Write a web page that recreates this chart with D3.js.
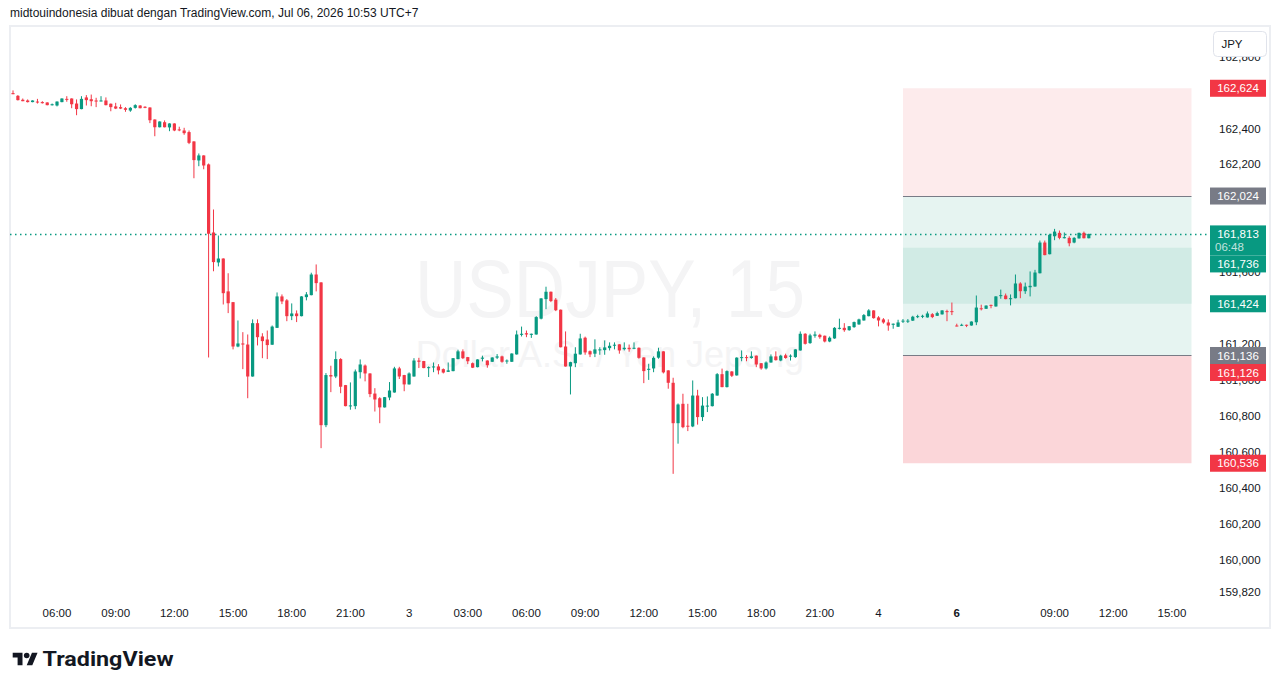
<!DOCTYPE html>
<html>
<head>
<meta charset="utf-8">
<script src="https://cdn.jsdelivr.net/npm/d3@7"></script>
<style>
  html, body { margin: 0; padding: 0; background: #fff; }
  svg { display: block; font-family: "Liberation Sans", Arial, sans-serif; }
</style>
</head>
<body>
<svg id="chart" width="1281" height="688"></svg>
<script>
// USDJPY 15m bars, Jul 2 03:45 .. Jul 6 10:45 (UTC+7)
const opens = [162.597,162.582,162.560,162.556,162.547,162.550,162.547,162.545,162.532,162.528,162.547,162.565,162.567,162.539,162.508,162.573,162.563,162.556,162.552,162.556,162.538,162.523,162.519,162.513,162.500,162.515,162.528,162.521,162.517,162.450,162.407,162.435,162.406,162.428,162.395,162.389,162.380,162.328,162.222,162.250,162.200,161.821,161.654,161.676,161.493,161.433,161.186,161.203,161.197,161.019,161.316,161.242,161.225,161.196,161.290,161.465,161.443,161.355,161.370,161.355,161.461,161.472,161.587,161.543,160.748,161.027,161.019,161.116,160.971,160.854,160.854,161.043,161.080,161.036,160.924,160.898,160.847,160.902,160.930,161.064,161.027,160.975,161.019,161.108,161.105,161.068,161.071,161.075,161.060,161.045,161.049,161.116,161.159,161.127,161.093,161.071,161.118,161.108,161.101,161.124,161.131,161.103,161.101,161.142,161.251,161.260,161.251,161.253,161.341,161.450,161.491,161.447,161.391,161.186,161.075,161.093,161.142,161.235,161.160,161.146,161.166,161.166,161.177,161.192,161.198,161.171,161.179,161.174,161.179,161.125,161.056,161.064,161.124,161.159,161.053,160.984,160.759,160.867,160.745,160.741,160.913,160.793,160.854,160.854,160.913,161.032,160.960,161.047,161.025,161.122,161.127,161.122,161.135,161.093,161.064,161.097,161.131,161.108,161.137,161.131,161.127,161.164,161.257,161.205,161.246,161.251,161.246,161.214,161.231,161.287,161.290,161.277,161.294,161.309,161.331,161.355,161.387,161.348,161.337,161.320,161.307,161.296,161.326,161.326,161.330,161.350,161.352,161.348,161.366,161.357,161.365,161.383,161.383,161.303,161.303,161.307,161.303,161.321,161.399,161.396,161.418,161.409,161.468,161.470,161.452,161.455,161.537,161.494,161.516,161.520,161.594,161.765,161.700,161.800,161.819,161.789,161.791,161.765,161.788,161.819,161.789];
const highs = [162.612,162.586,162.567,162.562,162.557,162.565,162.552,162.546,162.539,162.551,162.568,162.580,162.568,162.562,162.580,162.586,162.589,162.571,162.580,162.573,162.539,162.543,162.534,162.519,162.519,162.535,162.530,162.524,162.518,162.451,162.440,162.445,162.429,162.429,162.410,162.404,162.389,162.329,162.261,162.251,162.205,161.949,161.804,161.677,161.594,161.434,161.331,161.266,161.253,161.337,161.337,161.260,161.275,161.303,161.487,161.476,161.450,161.426,161.387,161.466,161.489,161.597,161.643,161.544,161.038,161.079,161.159,161.121,160.972,160.986,161.058,161.114,161.086,161.037,160.954,160.904,160.905,160.988,161.073,161.073,161.028,161.042,161.121,161.123,161.106,161.075,161.097,161.088,161.064,161.097,161.122,161.168,161.170,161.128,161.097,161.115,161.135,161.109,161.126,161.144,161.135,161.114,161.148,161.275,161.297,161.275,161.258,161.355,161.455,161.519,161.492,161.456,161.392,161.270,161.101,161.182,161.257,161.241,161.164,161.226,161.182,161.220,161.209,161.209,161.199,161.209,161.197,161.209,161.181,161.126,161.090,161.131,161.179,161.160,161.054,161.012,160.869,160.923,160.867,160.997,160.945,160.904,160.908,160.927,161.038,161.063,161.053,161.049,161.126,161.164,161.138,161.159,161.136,161.094,161.103,161.142,161.159,161.140,161.146,161.142,161.171,161.270,161.260,161.257,161.270,161.257,161.247,161.242,161.294,161.341,161.316,161.300,161.325,161.341,161.367,161.394,161.388,161.355,161.344,161.337,161.314,161.335,161.339,161.339,161.357,161.363,161.363,161.381,161.372,161.380,161.388,161.391,161.431,161.313,161.313,161.308,161.326,161.470,161.419,161.415,161.419,161.466,161.503,161.481,161.476,161.587,161.544,161.542,161.604,161.613,161.776,161.776,161.814,161.841,161.832,161.821,161.800,161.795,161.820,161.826,161.814];
const lows = [162.591,162.556,162.552,162.545,162.546,162.539,162.539,162.529,162.528,162.523,162.546,162.549,162.513,162.474,162.507,162.528,162.524,162.519,162.551,162.529,162.496,162.508,162.508,162.493,162.493,162.511,162.512,162.513,162.430,162.357,162.406,162.406,162.385,162.385,162.385,162.365,162.313,162.123,162.190,162.173,161.125,161.605,161.632,161.420,161.372,161.170,161.182,161.060,160.898,161.018,161.192,161.121,161.116,161.195,161.289,161.422,161.327,161.333,161.322,161.354,161.443,161.471,161.493,160.620,160.737,160.932,161.010,160.926,160.853,160.834,160.837,161.008,160.992,160.904,160.824,160.759,160.846,160.887,160.929,161.005,160.937,160.974,161.018,161.066,161.065,161.016,161.043,161.031,161.036,161.044,161.048,161.115,161.116,161.088,161.066,161.070,161.103,161.068,161.100,161.116,161.096,161.090,161.100,161.141,161.242,161.238,161.234,161.252,161.337,161.394,161.433,161.383,161.181,161.074,160.919,161.071,161.141,161.140,161.127,161.127,161.140,161.140,161.164,161.170,161.146,161.164,161.157,161.171,161.118,160.982,161.000,161.043,161.118,161.036,160.951,160.477,160.645,160.731,160.715,160.737,160.751,160.771,160.821,160.852,160.912,160.959,160.958,161.016,161.024,161.104,161.104,161.118,161.071,161.057,161.058,161.096,161.108,161.104,161.118,161.108,161.123,161.163,161.197,161.201,161.235,161.229,161.209,161.210,161.229,161.281,161.268,161.274,161.290,161.307,161.330,161.354,161.341,161.298,161.313,161.274,161.285,161.295,161.317,161.317,161.328,161.344,161.344,161.347,161.344,161.356,161.364,161.327,161.361,161.298,161.300,161.294,161.302,161.305,161.387,161.395,161.399,161.408,161.452,161.449,161.415,161.454,161.455,161.479,161.465,161.519,161.593,161.694,161.699,161.778,161.783,161.788,161.744,161.761,161.787,161.788,161.788];
const closes = [162.591,162.558,162.552,162.547,162.556,162.545,162.541,162.530,162.535,162.550,162.567,162.560,162.535,162.508,162.565,162.558,162.552,162.550,162.556,162.530,162.519,162.511,162.511,162.504,162.515,162.530,162.513,162.515,162.446,162.407,162.439,162.407,162.428,162.389,162.391,162.374,162.320,162.224,162.250,162.194,161.814,161.656,161.676,161.483,161.427,161.186,161.203,161.197,161.019,161.316,161.238,161.216,161.194,161.297,161.465,161.437,161.355,161.370,161.355,161.465,161.476,161.587,161.539,160.748,161.027,161.019,161.116,160.962,160.854,160.858,161.047,161.086,161.036,160.921,160.891,160.847,160.904,160.941,161.064,161.019,160.975,161.036,161.108,161.101,161.066,161.071,161.075,161.053,161.041,161.053,161.121,161.159,161.121,161.104,161.068,161.114,161.124,161.082,161.125,161.131,161.101,161.108,161.147,161.253,161.257,161.253,161.257,161.350,161.454,161.491,161.439,161.388,161.182,161.075,161.099,161.146,161.231,161.153,161.142,161.170,161.170,161.181,161.190,161.196,161.164,161.179,161.171,161.179,161.123,161.049,161.062,161.123,161.159,161.042,160.984,160.759,160.863,160.737,160.741,160.913,160.793,160.857,160.857,160.923,161.032,160.960,161.049,161.023,161.124,161.127,161.122,161.131,161.086,161.064,161.097,161.131,161.110,161.135,161.122,161.135,161.170,161.257,161.201,161.248,161.253,161.238,161.214,161.235,161.290,161.290,161.277,161.299,161.322,161.337,161.361,161.387,161.344,161.331,161.320,161.303,161.313,161.320,161.330,161.330,161.352,161.355,161.357,161.370,161.350,161.372,161.387,161.380,161.380,161.299,161.307,161.303,161.325,161.403,161.396,161.414,161.414,161.465,161.472,161.450,161.455,161.537,161.494,161.520,161.524,161.598,161.765,161.695,161.808,161.826,161.791,161.795,161.761,161.791,161.819,161.789,161.813];

// time axis: bar index -> label
const timeTickIdx = [9, 21, 33, 45, 57, 69, 81, 93, 105, 117, 129, 141, 153, 165, 177, 193, 213, 225, 237];
const timeTickLabels = ["06:00", "09:00", "12:00", "15:00", "18:00", "21:00", "3", "03:00", "06:00", "09:00", "12:00", "15:00", "18:00", "21:00", "4", "6", "09:00", "12:00", "15:00"];

const priceTicks = [162.8, 162.6, 162.4, 162.2, 162.0, 161.8, 161.6, 161.4, 161.2, 161.0, 160.8, 160.6, 160.4, 160.2, 160.0, 159.82];

const lastPrice = 161.813;
const countdown = "06:48";

// long/short position tool zones
const toolStart = 182, toolEnd = 241;
const zoneTops = [162.624, 162.024, 161.736, 161.136];
const zoneBottoms = [162.024, 161.136, 161.424, 160.536];
const zoneFills = ["#fdebec", "#e6f4f1", "#d1ebe5", "#fbd6d9"];
const toolLines = [162.024, 161.136];

const labelPrices = [162.624, 162.024, 161.813, 161.736, 161.424, 161.136, 161.126, 160.536];
const labelColors = ["#f23645", "#787b86", "#089981", "#089981", "#089981", "#787b86", "#f23645", "#f23645"];

const UP = "#089981", DOWN = "#f23645";

const svg = d3.select("#chart");
const W = 1281, H = 688;
const pane = { left: 10, right: 1207, top: 26, bottom: 600 };

const x = d3.scaleLinear().domain([0, 220]).range([13, 13 + 220 * 4.89]);
const y = d3.scaleLinear().domain([160, 162.4]).range([559.5, 128.5]);

const loc = d3.formatLocale({ decimal: ",", thousands: ".", grouping: [3], currency: ["", ""] });
const fmt = loc.format(".3f");

svg.append("rect").attr("width", W).attr("height", H).attr("fill", "#fff");

// header
svg.append("text")
    .attr("x", 10).attr("y", 17)
    .attr("font-size", 12).attr("fill", "#131722")
    .text("midtouindonesia dibuat dengan TradingView.com, Jul 06, 2026 10:53 UTC+7");

// frame
svg.append("rect")
    .attr("x", 10).attr("y", 26).attr("width", 1260).attr("height", 602)
    .attr("fill", "none").attr("stroke", "#eceef2").attr("stroke-width", 2);

// watermark
svg.append("text")
    .attr("x", 610).attr("y", 317).attr("text-anchor", "middle")
    .attr("font-size", 82).attr("fill", "#f4f4f5")
    .attr("textLength", 390).attr("lengthAdjust", "spacingAndGlyphs")
    .text("USDJPY, 15");
svg.append("text")
    .attr("x", 610).attr("y", 367).attr("text-anchor", "middle")
    .attr("font-size", 36).attr("fill", "#f4f4f5")
    .text("Dollar A.S. / Yen Jepang");

// position tool zones
const zones = d3.range(zoneTops.length).map(i => ({ top: zoneTops[i], bottom: zoneBottoms[i], fill: zoneFills[i] }));
svg.append("g").selectAll("rect")
    .data(zones)
    .enter()
    .append("rect")
    .attr("x", x(toolStart))
    .attr("width", x(toolEnd) - x(toolStart))
    .attr("y", d => y(d.top))
    .attr("height", d => y(d.bottom) - y(d.top))
    .attr("fill", d => d.fill);

svg.append("g").selectAll("line")
    .data(toolLines)
    .enter()
    .append("line")
    .attr("x1", x(toolStart)).attr("x2", x(toolEnd))
    .attr("y1", d => Math.round(y(d)) + 0.5).attr("y2", d => Math.round(y(d)) + 0.5)
    .attr("stroke", "#787b86").attr("stroke-width", 1);

// last price dotted line
svg.append("line")
    .attr("x1", pane.left).attr("x2", pane.right)
    .attr("y1", Math.round(y(lastPrice)) + 0.5).attr("y2", Math.round(y(lastPrice)) + 0.5)
    .attr("stroke", UP).attr("stroke-width", 1.3)
    .attr("stroke-dasharray", "1.5,3.5");

// candles
const bars = opens.map((o, i) => ({ i, o, h: highs[i], l: lows[i], c: closes[i] }));
const candle = svg.append("g").selectAll("g")
    .data(bars)
    .enter()
    .append("g");

candle.append("line")
    .attr("x1", d => x(d.i)).attr("x2", d => x(d.i))
    .attr("y1", d => y(d.h)).attr("y2", d => y(d.l))
    .attr("stroke", d => d.c >= d.o ? UP : DOWN)
    .attr("stroke-width", 1);

candle.append("rect")
    .attr("x", d => x(d.i) - 1.6)
    .attr("width", 3.2)
    .attr("y", d => y(Math.max(d.o, d.c)))
    .attr("height", d => Math.max(1, Math.abs(y(d.o) - y(d.c))))
    .attr("fill", d => d.c >= d.o ? UP : DOWN);

// price labels, pushed down when overlapping
let prevBottom = -Infinity;
const labels = labelPrices.map((p, i) => {
    const hgt = p === lastPrice ? 30 : 17;
    let top = y(p) - 8.5;
    if (top < prevBottom) top = prevBottom;
    prevBottom = top + hgt;
    return { p, top, hgt, color: labelColors[i] };
});

// price axis ticks (skip those completely hidden under a label)
const visibleTicks = priceTicks.filter(t => !labels.some(l => l.top <= y(t) - 4 && l.top + l.hgt >= y(t) + 4));
svg.append("g").selectAll("text")
    .data(visibleTicks)
    .enter()
    .append("text")
    .attr("x", 1219)
    .attr("y", d => y(d))
    .attr("dy", "0.35em")
    .attr("font-size", 11.5)
    .attr("fill", "#131722")
    .text(d => fmt(d));

// time axis
svg.append("g").selectAll("text")
    .data(timeTickIdx)
    .enter()
    .append("text")
    .attr("x", d => x(d))
    .attr("y", 617)
    .attr("text-anchor", "middle")
    .attr("font-size", 11.5)
    .attr("font-weight", (d, i) => timeTickLabels[i] === "6" ? "bold" : "normal")
    .attr("fill", "#131722")
    .text((d, i) => timeTickLabels[i]);

// JPY button
svg.append("rect")
    .attr("x", 1213.5).attr("y", 31.5).attr("width", 53).attr("height", 25).attr("rx", 4)
    .attr("fill", "#fff").attr("stroke", "#e0e3eb");
svg.append("text")
    .attr("x", 1232).attr("y", 48).attr("text-anchor", "middle")
    .attr("font-size", 11.5).attr("fill", "#131722")
    .text("JPY");

const lab = svg.append("g").selectAll("g")
    .data(labels)
    .enter()
    .append("g");

lab.append("rect")
    .attr("x", 1210).attr("width", 56)
    .attr("y", d => d.top).attr("height", d => d.hgt)
    .attr("fill", d => d.color);

lab.append("text")
    .attr("x", 1238).attr("text-anchor", "middle")
    .attr("y", d => d.top + 8.5).attr("dy", "0.35em")
    .attr("font-size", 11.5).attr("fill", "#fff")
    .text(d => fmt(d.p));

lab.filter(d => d.p === lastPrice)
    .append("text")
    .attr("x", 1215)
    .attr("y", d => d.top + 22).attr("dy", "0.35em")
    .attr("font-size", 11.5).attr("fill", "rgba(255,255,255,0.75)")
    .text(countdown);

// TradingView logo
const logo = svg.append("g").attr("transform", "translate(12.7,649.9) scale(0.7)").attr("fill", "#131722");
logo.append("path").attr("d", "M14 22H7V11H0V4h14v18zM28 22h-8l7.5-18h8L28 22z");
logo.append("circle").attr("cx", 20).attr("cy", 8).attr("r", 4);
svg.append("text")
    .attr("x", 42.5).attr("y", 666)
    .attr("font-family", "Roboto, 'Liberation Sans', sans-serif")
    .attr("font-weight", "bold").attr("font-size", 20.5).attr("fill", "#131722")
    .attr("textLength", 131).attr("lengthAdjust", "spacingAndGlyphs")
    .text("TradingView");
</script>
</body>
</html>
